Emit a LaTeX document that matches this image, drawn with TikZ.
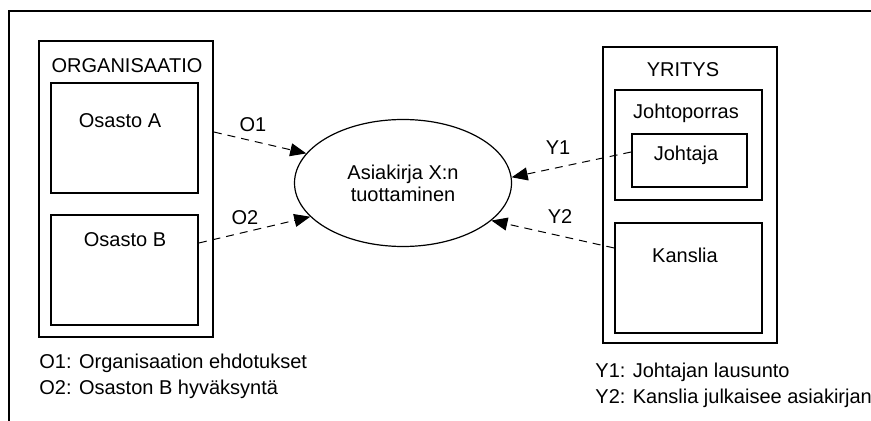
\documentclass[tikz,border=0pt]{standalone}
\usepackage{fontspec}
\setmainfont{Liberation Sans}
\usetikzlibrary{shapes.geometric,arrows.meta,positioning}

\begin{document}
\begin{tikzpicture}[
    x=0.5pt, y=-0.5pt,
    every node/.style={font=\fontsize{10}{11}\selectfont, inner sep=0pt},
    unitbox/.style={rectangle, draw, line width=0.85pt},
    process/.style={ellipse, draw, line width=0.6pt, align=center,
                    minimum width=108.5pt, minimum height=63.5pt},
    flow/.style={-{Triangle[length=8pt, width=6.5pt]}, line width=0.5pt,
                 dash pattern=on 4pt off 3pt},
    tag/.style={anchor=center},
    note/.style={anchor=west}
  ]
    \useasboundingbox (0,0) rectangle (871,421);

    % Frame (open to the right and bottom)
    \draw[line width=1.2pt] (9,421) -- (9,11) -- (871,11);

    % Organisation side
    \node[unitbox, minimum width=87pt, minimum height=148pt] (org) at (126,189) {};
    \node (orgtitle) at (127,66) {ORGANISAATIO};
    \node[unitbox, minimum width=73.5pt, minimum height=55pt] (osA) at (124.5,138) {};
    \node (osAtext) at (120,121) {Osasto A};
    \node[unitbox, minimum width=73.5pt, minimum height=55pt] (osB) at (124.5,270) {};
    \node (osBtext) at (125,240) {Osasto B};

    % Company side
    \node[unitbox, minimum width=87pt, minimum height=148pt] (yr) at (690,195) {};
    \node (yrtitle) at (683,70) {YRITYS};
    \node[unitbox, minimum width=73.5pt, minimum height=55pt] (jp) at (688.5,145) {};
    \node (jptext) at (686,113) {Johtoporras};
    \node[unitbox, minimum width=57.5pt, minimum height=26.5pt] (jht) at (689.5,160.5) {};
    \node (jhttext) at (686,155) {Johtaja};
    \node[unitbox, minimum width=73.5pt, minimum height=55pt] (kan) at (688.5,278) {};
    \node (kantext) at (685,255) {Kanslia};

    % Document production
    \node[process] (doc) at (403,183) {Asiakirja X:n\\tuottaminen};

    % Arrows
    \draw[flow] ([shift={(0,-57)}]org.east) -- (doc.163);
    \draw[flow] ([shift={(0,-27)}]osB.east) -- (doc.200);
    \draw[flow] ([shift={(0,-8.5)}]jht.west) -- (doc.3);
    \draw[flow] ([shift={(0,-30)}]kan.west) -- (doc.-23);

    \node[tag] (o1) at (253,125) {O1};
    \node[tag] (o2) at (245,218) {O2};
    \node[tag] (y1) at (558,148) {Y1};
    \node[tag] (y2) at (560,217) {Y2};

    % Legends
    \node[note] (legO1) at (39,363) {O1: Organisaation ehdotukset};
    \node[note] (legO2) at (39,389) {O2: Osaston B hyväksyntä};
    \node[note] (legY1) at (595,372) {Y1: Johtajan lausunto};
    \node[note] (legY2) at (595,398) {Y2: Kanslia julkaisee asiakirjan};

  \end{tikzpicture}
\end{document}
